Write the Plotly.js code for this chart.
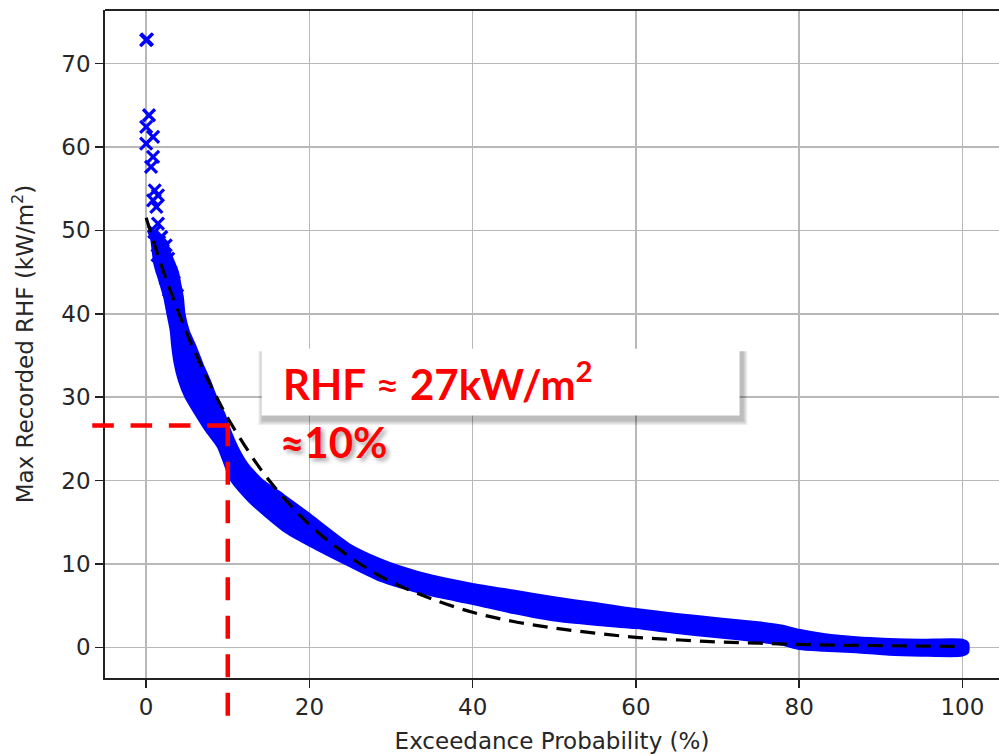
<!DOCTYPE html>
<html><head><meta charset="utf-8">
<script src="https://cdn.plot.ly/plotly-3.0.1.min.js"></script>
<style>html,body{margin:0;padding:0;overflow:hidden;background:#fff}#chart{width:999px;height:754px}</style>
</head><body><div id="chart"></div>
<script>
// ---- data ----
const xTickVals = [0, 20, 40, 60, 80, 100];
const yTickVals = [0, 10, 20, 30, 40, 50, 60, 70];

// sparse top records (individual x markers)
const outlierX = [0.0, 0.1, 0.35, 0.0, 0.85, 0.0, 0.85, 0.6, 1.05, 1.45, 0.85, 1.25, 1.45, 1.85, 2.05, 1.0, 1.6, 2.4, 1.4, 2.7, 2.0, 3.0, 2.4, 3.4, 2.8, 3.8];
const outlierY = [72.8, 72.9, 63.8, 62.4, 61.2, 60.4, 58.8, 57.6, 54.8, 54.2, 53.6, 52.8, 50.8, 49.2, 47.6, 49.8, 48.6, 48.2, 47.0, 46.6, 45.6, 45.0, 44.2, 43.8, 42.8, 42.2];

// dense cloud of records: outer (upper/right) edge and inner (lower/left) edge
const bandUpperX = [1.2, 2.0, 2.6, 3.3, 3.9, 4.2, 4.5, 4.7, 5.2, 6.1, 6.9, 7.8, 8.6, 9.6, 10.3, 11.2, 12.4, 14.3, 16.8, 20.0, 25.0, 28.6, 31.1, 35.0, 40.0, 45.0, 50.0, 55.0, 57.0, 60.0, 65.0, 70.0, 75.0, 78.0, 80.0, 83.0, 87.0, 91.0, 95.0, 100.0, 100.7];
const bandUpperY = [50.0, 49.2, 48.0, 46.5, 45.0, 43.5, 42.0, 40.0, 38.0, 36.0, 34.0, 32.0, 30.0, 28.0, 26.0, 24.0, 22.0, 20.0, 18.3, 16.0, 12.3, 10.6, 9.7, 8.6, 7.6, 6.8, 6.0, 5.3, 5.0, 4.6, 4.0, 3.5, 3.0, 2.6, 2.1, 1.6, 1.2, 1.0, 0.9, 0.9, 0.5];
const bandLowerX = [0.2, 0.6, 1.0, 1.6, 2.2, 2.6, 3.0, 3.2, 3.5, 4.0, 4.8, 6.0, 7.3, 8.8, 9.6, 10.4, 12.7, 16.8, 20.0, 25.0, 28.6, 31.1, 35.0, 40.0, 45.0, 50.0, 55.0, 60.0, 65.0, 70.0, 75.0, 78.0, 80.0, 83.0, 87.0, 91.0, 95.0, 100.0, 100.7];
const bandLowerY = [50.0, 49.0, 46.0, 44.0, 42.0, 40.0, 38.0, 36.0, 34.0, 32.0, 30.0, 28.0, 26.0, 24.0, 22.0, 20.0, 17.4, 14.0, 12.2, 9.7, 8.0, 7.2, 6.2, 5.2, 4.1, 3.2, 2.7, 2.3, 1.7, 1.2, 0.7, 0.3, -0.2, -0.4, -0.6, -0.9, -1.0, -1.0, -0.6];

// fitted curve (black dashed)
const fitX = [0, 1, 2, 3, 4, 5, 6, 7, 8, 9, 10, 12, 14, 16, 18, 20, 22, 25, 28, 31, 35, 40, 45, 50, 55, 60, 65, 70, 75, 80, 85, 90, 95, 100];
const fitY = [51.5, 48.4, 45.4, 42.7, 40.1, 37.6, 35.4, 33.2, 31.2, 29.3, 27.5, 24.3, 21.4, 18.9, 16.7, 14.7, 13.0, 10.8, 8.9, 7.4, 5.8, 4.2, 3.1, 2.3, 1.7, 1.2, 0.9, 0.65, 0.5, 0.35, 0.25, 0.2, 0.15, 0.1];

// highlighted reading
const markProb = 10;      // %
const markRHF = 26.6;     // kW/m2
const markLineStartX = -6.6;
const markLineEndY = -8.2;

// callout box
const boxX = [14.15, 72.7];
const boxY = [27.8, 35.8];
const labelMain = 'RHF <span style="font-weight:normal">≈</span> 27kW/m<sup>2</sup>';
const labelProb = '≈10%';

// ---- layout ----
const xRange = [-5.04, 104.48];
const yRange = [-3.68, 76.42];
const px = v => (v - xRange[0]) / (xRange[1] - xRange[0]);
const py = v => (v - yRange[0]) / (yRange[1] - yRange[0]);

const polyX = bandUpperX.concat(bandLowerX.slice().reverse());
const polyY = bandUpperY.concat(bandLowerY.slice().reverse());

const traces = [
  {x: polyX, y: polyY, type: 'scatter', mode: 'lines', fill: 'toself',
   fillcolor: '#0000ff', line: {color: '#0000ff', width: 2, shape: 'spline', smoothing: 0.6}, hoverinfo: 'skip', showlegend: false},
  {x: outlierX, y: outlierY, type: 'scatter', mode: 'markers',
   marker: {symbol: 'x-thin', size: 12, color: '#0000ff', line: {color: '#0000ff', width: 3.2}}, showlegend: false},
  {x: fitX, y: fitY, type: 'scatter', mode: 'lines', line: {color: '#000000', width: 3.2, dash: '15px,9px', shape: 'spline'}, showlegend: false}
];

const axisFont = {family: 'DejaVu Sans', size: 23, color: '#262626'};
const shapes = [];
// top spine
shapes.push({type: 'line', xref: 'paper', yref: 'paper', x0: 0, x1: 1, y0: 1, y1: 1, line: {color: '#222', width: 1.8}});
// callout shadow layers
for (let k = 4; k >= 1; k--) {
  shapes.push({type: 'rect', xref: 'x', yref: 'y', layer: 'above',
    x0: boxX[0] + 0.2 - k*0.15, x1: boxX[1] + 0.35 + k*0.15, y0: boxY[0] - 0.55 - k*0.15, y1: boxY[1] - 0.3,
    fillcolor: 'rgba(0,0,0,0.07)', line: {width: 0}});
}
shapes.push({type: 'rect', xref: 'x', yref: 'y', layer: 'above',
  x0: boxX[0], x1: boxX[1], y0: boxY[0], y1: boxY[1], fillcolor: '#ffffff', line: {width: 0}});
// red dashed reading lines
shapes.push({type: 'line', xref: 'paper', yref: 'y', layer: 'above',
  x0: px(markLineStartX), x1: px(markProb + 0.27), y0: markRHF, y1: markRHF,
  line: {color: '#ff0000', width: 4.5, dash: '21.6px,16.7px'}});
shapes.push({type: 'line', xref: 'x', yref: 'paper', layer: 'above',
  x0: markProb, x1: markProb, y0: py(markRHF + 0.27), y1: py(markLineEndY),
  line: {color: '#ff0000', width: 4.5, dash: '23px,15.5px'}});

const annotations = [
  {xref: 'x', yref: 'y', x: 16.5, y: 31.9, xanchor: 'left', yanchor: 'middle', showarrow: false,
   text: labelMain, font: {family: 'Lato', size: 42, color: '#ff0000', weight: 'bold'}},
  {xref: 'x', yref: 'y', x: 16.2, y: 24.6, xanchor: 'left', yanchor: 'middle', showarrow: false,
   text: labelProb, font: {family: 'Lato', size: 42, color: '#ff0000', weight: 'bold', shadow: '3px 3px 4px rgba(0,0,0,0.35)'}}
];

const layout = {
  width: 999, height: 754,
  margin: {l: 105, r: 0, t: 10, b: 76, pad: 0},
  paper_bgcolor: '#ffffff', plot_bgcolor: '#ffffff',
  showlegend: false,
  xaxis: {range: xRange, tickvals: xTickVals, ticktext: xTickVals.map(String),
    showgrid: true, gridcolor: '#b8b8b8', gridwidth: 1.6, zeroline: false,
    showline: true, linecolor: '#222', linewidth: 1.8, ticks: 'outside', ticklen: 8, tickwidth: 1.6, tickcolor: '#222',
    tickfont: axisFont, title: {text: 'Exceedance Probability (%)', font: axisFont, standoff: 14}},
  yaxis: {range: yRange, tickvals: yTickVals, ticktext: yTickVals.map(String),
    showgrid: true, gridcolor: '#b8b8b8', gridwidth: 1.6, zeroline: false,
    showline: true, linecolor: '#222', linewidth: 1.8, ticks: 'outside', ticklen: 8, tickwidth: 1.6, tickcolor: '#222',
    tickfont: axisFont, title: {text: 'Max Recorded RHF (kW/m<sup>2</sup>)', font: axisFont, standoff: 21}},
  shapes: shapes,
  annotations: annotations
};

Plotly.newPlot('chart', traces, layout, {staticPlot: true, displayModeBar: false});
</script></body></html>
